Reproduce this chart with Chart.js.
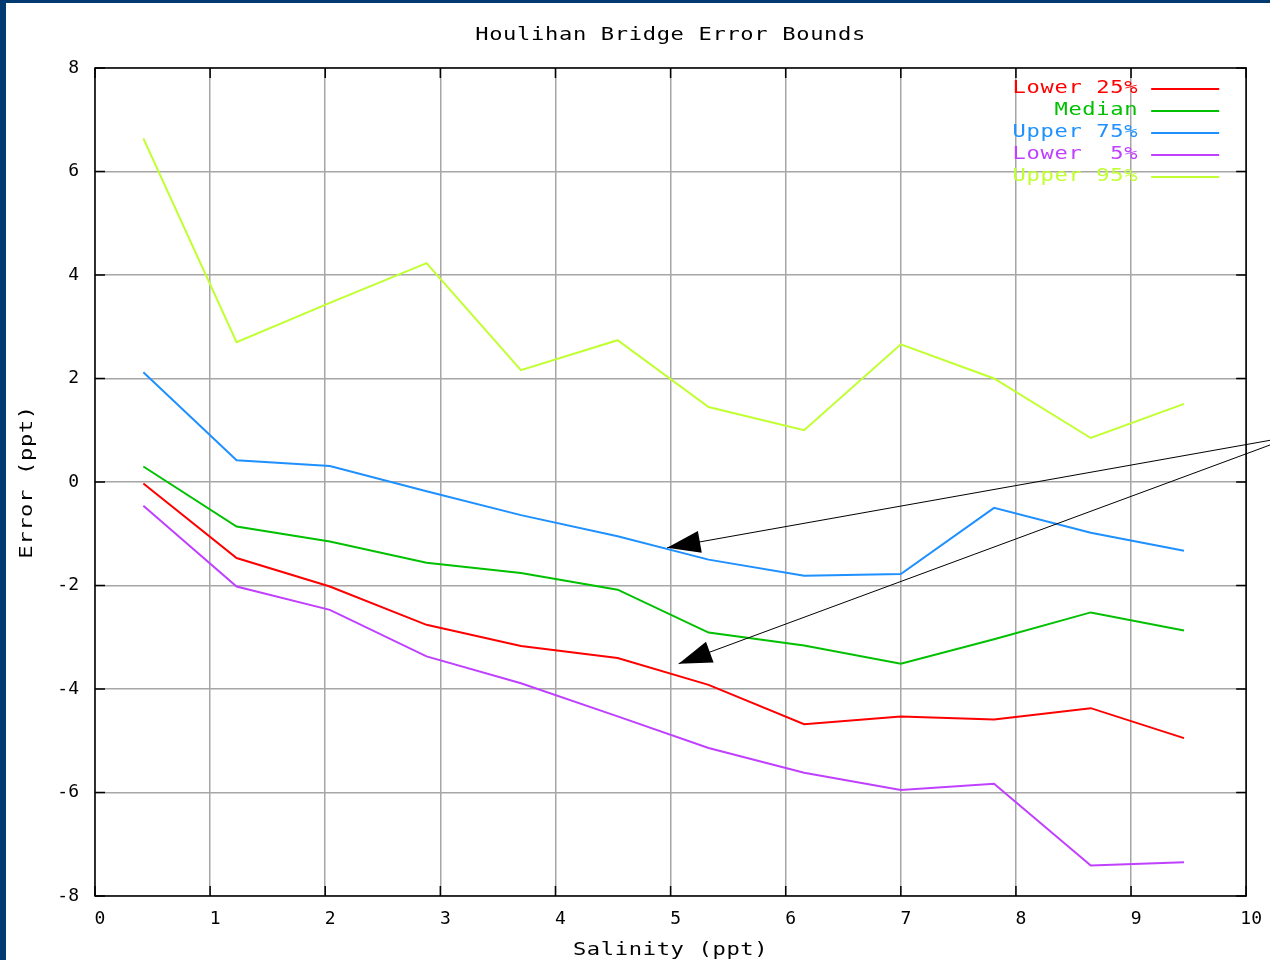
<!DOCTYPE html>
<html>
<head>
<meta charset="utf-8">
<script src="https://cdn.jsdelivr.net/npm/chart.js@4"></script>
<style>
  html, body { margin: 0; padding: 0; background: #003a70; overflow: hidden; }
  #wrap { position: absolute; left: 6px; top: 3px; width: 1264px; height: 957px; background: #fff; }
</style>
</head>
<body>
<div id="wrap"><canvas id="myChart" width="1264" height="957"></canvas></div>
<script>
var salinity = [0.42, 1.23, 2.04, 2.88, 3.70, 4.54, 5.33, 6.16, 7.00, 7.81, 8.65, 9.46];
var lower25 = [-0.03, -1.47, -2.02, -2.76, -3.17, -3.40, -3.92, -4.68, -4.53, -4.59, -4.37, -4.95];
var median = [0.30, -0.86, -1.15, -1.56, -1.76, -2.08, -2.91, -3.16, -3.51, -3.04, -2.52, -2.87];
var upper75 = [2.12, 0.42, 0.31, -0.18, -0.64, -1.05, -1.50, -1.81, -1.78, -0.50, -0.98, -1.33];
var lower5 = [-0.46, -2.02, -2.47, -3.37, -3.89, -4.53, -5.14, -5.62, -5.95, -5.83, -7.41, -7.35];
var upper95 = [6.64, 2.70, 3.46, 4.23, 2.16, 2.74, 1.45, 1.00, 2.66, 2.00, 0.85, 1.51];

var seriesNames = ["Lower 25%", "Median", "Upper 75%", "Lower  5%", "Upper 95%"];
var seriesColors = ["#ff0000", "#00c000", "#1e90ff", "#c040ff", "#c0ff30"];

// arrows: [fromX, fromY, toX, toY] in data units
var arrows = [
  [10.42, 0.89, 4.97, -1.27],
  [10.42, 0.89, 5.07, -3.51]
];

var FONT = "'DejaVu Sans Mono', monospace";

function points(ys) {
  return salinity.map((x, i) => ({ x: x, y: ys[i] }));
}

// gnuplot's font is wide, so stretch the text sideways
function wideText(ctx, txt, x, y, rot) {
  ctx.save();
  ctx.translate(x, y);
  if (rot) ctx.rotate(rot);
  ctx.scale(1.3, 1);
  ctx.fillText(txt, 0, 0);
  ctx.restore();
}

var gnuplotLook = {
  id: "gnuplotLook",
  afterDraw(chart) {
    var ctx = chart.ctx;
    var a = chart.chartArea;
    var xs = chart.scales.x, ys = chart.scales.y;
    ctx.save();

    // border + inward ticks
    ctx.strokeStyle = "#000";
    ctx.lineWidth = 1.5;
    ctx.strokeRect(a.left, a.top, a.right - a.left, a.bottom - a.top);
    ctx.beginPath();
    for (var v = -8; v <= 8; v += 2) {
      var py = ys.getPixelForValue(v);
      ctx.moveTo(a.left, py); ctx.lineTo(a.left + 10, py);
      ctx.moveTo(a.right, py); ctx.lineTo(a.right - 10, py);
    }
    for (var u = 0; u <= 10; u++) {
      var px = xs.getPixelForValue(u);
      ctx.moveTo(px, a.bottom); ctx.lineTo(px, a.bottom - 10);
      ctx.moveTo(px, a.top); ctx.lineTo(px, a.top + 10);
    }
    ctx.stroke();

    // arrows
    ctx.lineWidth = 1;
    ctx.fillStyle = "#000";
    arrows.forEach(ar => {
      var x0 = xs.getPixelForValue(ar[0]), y0 = ys.getPixelForValue(ar[1]);
      var x1 = xs.getPixelForValue(ar[2]), y1 = ys.getPixelForValue(ar[3]);
      var ang = Math.atan2(y1 - y0, x1 - x0);
      ctx.beginPath();
      ctx.moveTo(x0, y0); ctx.lineTo(x1, y1);
      ctx.stroke();
      var len = 35, spread = 0.32;
      ctx.beginPath();
      ctx.moveTo(x1, y1);
      ctx.lineTo(x1 - len * Math.cos(ang - spread), y1 - len * Math.sin(ang - spread));
      ctx.lineTo(x1 - len * Math.cos(ang + spread), y1 - len * Math.sin(ang + spread));
      ctx.closePath();
      ctx.fill();
    });

    // texts
    ctx.font = "17px " + FONT;
    ctx.letterSpacing = "0.5px";
    ctx.textBaseline = "middle";
    ctx.fillStyle = "#000";
    ctx.textAlign = "center";
    var cx = (a.left + a.right) / 2;
    wideText(ctx, "Houlihan Bridge Error Bounds", cx, 33);
    wideText(ctx, "Salinity (ppt)", cx, 948);
    wideText(ctx, "Error (ppt)", 22, (a.top + a.bottom) / 2, -Math.PI / 2);

    // legend
    ctx.textAlign = "right";
    chart.data.datasets.forEach((ds, i) => {
      var ly = a.top + 21 + 22 * i;
      ctx.fillStyle = ds.borderColor;
      wideText(ctx, ds.label, a.right - 108, ly);
      ctx.strokeStyle = ds.borderColor;
      ctx.lineWidth = 2;
      ctx.beginPath();
      ctx.moveTo(a.right - 95, ly);
      ctx.lineTo(a.right - 27, ly);
      ctx.stroke();
    });
    ctx.restore();
  }
};

document.addEventListener("DOMContentLoaded", function(e) {
  var ctx = document.getElementById("myChart");
  var allSeries = [lower25, median, upper75, lower5, upper95];

  var myChart = new Chart(ctx, {
    type: "line",
    data: {
      datasets: allSeries.map((s, i) => ({
        label: seriesNames[i],
        data: points(s),
        borderColor: seriesColors[i],
        backgroundColor: seriesColors[i],
        borderWidth: 2,
        pointRadius: 0,
        fill: false,
        tension: 0
      }))
    },
    options: {
      responsive: false,
      animation: false,
      layout: { padding: { left: 0, top: 65, right: 22, bottom: 0 } },
      plugins: {
        legend: { display: false },
        title: { display: false },
        tooltip: { enabled: false }
      },
      scales: {
        x: {
          type: "linear",
          min: 0,
          max: 10,
          afterFit: s => { s.height = 64; },
          ticks: {
            stepSize: 1,
            padding: 13,
            labelOffset: 5,
            maxRotation: 0,
            color: "#000",
            font: { family: FONT, size: 18 }
          },
          grid: { color: "#a6a6a6", lineWidth: 1.5, drawTicks: false },
          border: { display: false }
        },
        y: {
          min: -8,
          max: 8,
          afterFit: s => { s.width = 89; },
          ticks: {
            stepSize: 2,
            padding: 16,
            color: "#000",
            font: { family: FONT, size: 18 }
          },
          grid: { color: "#a6a6a6", lineWidth: 1.5, drawTicks: false },
          border: { display: false }
        }
      }
    },
    plugins: [gnuplotLook]
  });
});
</script>
</body>
</html>
